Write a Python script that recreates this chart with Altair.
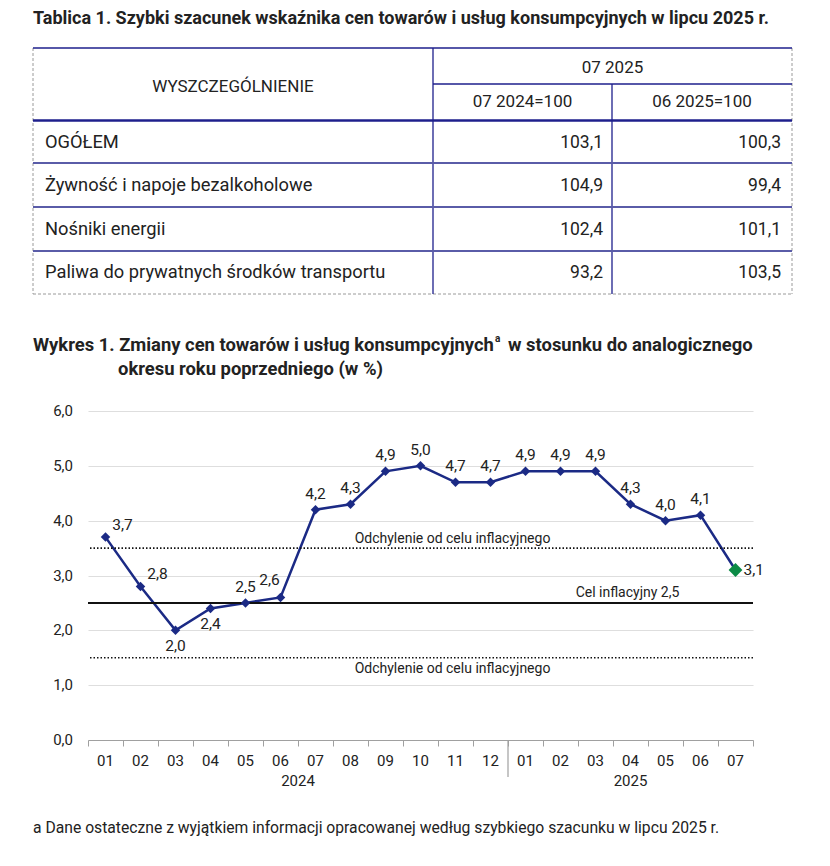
import altair as alt
import pandas as pd

# ---------------- data ----------------
months = ["2024-01", "2024-02", "2024-03", "2024-04", "2024-05", "2024-06",
          "2024-07", "2024-08", "2024-09", "2024-10", "2024-11", "2024-12",
          "2025-01", "2025-02", "2025-03", "2025-04", "2025-05", "2025-06", "2025-07"]
cpi = [3.7, 2.8, 2.0, 2.4, 2.5, 2.6, 4.2, 4.3, 4.9, 5.0, 4.7, 4.7,
       4.9, 4.9, 4.9, 4.3, 4.0, 4.1, 3.1]
# where each value label sits relative to its point (style, not data)
label_place = ["ur", "ur", "below", "below", "above", "ul", "above", "above", "above", "above",
               "above", "above", "above", "above", "above", "above", "above", "above", "right"]
y_ticks = [0, 1, 2, 3, 4, 5, 6]

inflation_target = 2.5
tolerance_upper = 3.5
tolerance_lower = 1.5

table_title = "Tablica 1. Szybki szacunek wskaźnika cen towarów i usług konsumpcyjnych w lipcu 2025 r."
table_head = "WYSZCZEGÓLNIENIE"
table_period = "07 2025"
table_cols = ["07 2024=100", "06 2025=100"]
table_rows = ["OGÓŁEM", "Żywność i napoje bezalkoholowe", "Nośniki energii",
              "Paliwa do prywatnych środków transportu"]
col_yoy = ["103,1", "104,9", "102,4", "93,2"]
col_mom = ["100,3", "99,4", "101,1", "103,5"]

chart_title_1 = "Wykres 1. Zmiany cen towarów i usług konsumpcyjnych"
chart_title_sup = "a"
chart_title_1b = "w stosunku do analogicznego"
chart_title_2 = "okresu roku poprzedniego (w %)"
footnote = "a Dane ostateczne z wyjątkiem informacji opracowanej według szybkiego szacunku w lipcu 2025 r."
years = ["2024", "2025"]

# ---------------- layout constants -------------
FONT = "Roboto"
W, H = 665, 329
TXT = "#222222"
NAVY = "#1b2a85"
GREEN = "#0b8a45"
TNAVY = "#1e1f8c"


def pl(v):
    return f"{v:.1f}".replace(".", ",")


df = pd.DataFrame({"m": months, "v": cpi, "lab": [pl(v) for v in cpi], "place": label_place})
df_main = df.iloc[:-1]
df_last = df.iloc[-1:]

X_SCALE = alt.Scale(domain=months, paddingInner=0, paddingOuter=0)
Y_SCALE = alt.Scale(domain=[0, 6], nice=False)

xs = alt.X("m:O", title=None, scale=X_SCALE,
           axis=alt.Axis(labels=False, tickBand="extent", tickSize=6, tickColor="#a0a0a0",
                         domainColor="#a0a0a0", grid=False))
ys = alt.Y("v:Q", title=None, scale=Y_SCALE,
           axis=alt.Axis(values=[i * 0.5 for i in range(13)], labels=False,
                         domain=False, ticks=False, grid=True, gridColor="#dedede", gridWidth=1.2))

line = alt.Chart(df).mark_line(color=NAVY, strokeWidth=2.5).encode(x=xs, y=ys)
pts = alt.Chart(df_main).mark_point(
    shape="diamond", filled=True, size=90, color=NAVY, opacity=1).encode(x="m:O", y="v:Q")
last_pt = alt.Chart(df_last).mark_point(
    shape="diamond", filled=True, size=190, color=GREEN, opacity=1).encode(x="m:O", y="v:Q")

offsets = {"above": ("center", 0, -16), "below": ("center", 0, 16),
           "ur": ("center", 17, -12), "ul": ("center", -11, -17), "right": ("left", 8, 0)}
labels = []
for p, (al, dx, dy) in offsets.items():
    labels.append(alt.Chart(df[df["place"] == p]).mark_text(
        align=al, baseline="middle", dx=dx, dy=dy, fontSize=15.5, font=FONT, color=TXT
    ).encode(x="m:O", y="v:Q", text="lab:N"))

# axis labels as text marks
xlab_df = pd.DataFrame({"m": months, "t": [m[5:] for m in months]})
xlab = alt.Chart(xlab_df).mark_text(fontSize=15, font=FONT, color=TXT, baseline="middle").encode(
    x="m:O", y=alt.value(H + 21), text="t:N")
ylab_df = pd.DataFrame({"v": y_ticks, "t": [pl(v) for v in y_ticks]})
ylab = alt.Chart(ylab_df).mark_text(fontSize=15, font=FONT, color=TXT, baseline="middle",
                                    align="right").encode(
    x=alt.value(-15), y="v:Q", text="t:N")

refdf = pd.DataFrame({"v": [tolerance_upper, tolerance_lower]})
ref_dotted = alt.Chart(refdf).mark_rule(color="#111111", strokeWidth=1.6, strokeDash=[1.5, 2]).encode(y="v:Q")
ref_target = alt.Chart(pd.DataFrame({"v": [inflation_target]})).mark_rule(
    color="#111111", strokeWidth=2).encode(y="v:Q")

ref_txt_df = pd.DataFrame({
    "m": ["2024-11", "2024-11", "2025-04"],
    "v": [tolerance_upper, tolerance_lower, inflation_target],
    "t": ["Odchylenie od celu inflacyjnego", "Odchylenie od celu inflacyjnego",
          "Cel inflacyjny " + pl(inflation_target)],
})
ref_dy = [-9, 11, -10]
ref_txt = []
for i in range(3):
    ref_txt.append(alt.Chart(ref_txt_df.iloc[[i]]).mark_text(
        fontSize=14, font=FONT, color=TXT, baseline="middle", dy=ref_dy[i], dx=-3
    ).encode(x="m:O", y="v:Q", text="t:N"))

# year labels + separator
year_lab = [
    alt.Chart(pd.DataFrame({"m": ["2024-07"], "t": [years[0]]})).mark_text(
        fontSize=15, font=FONT, color=TXT, baseline="middle").encode(
        x=alt.X("m:O", bandPosition=0), y=alt.value(H + 41), text="t:N"),
    alt.Chart(pd.DataFrame({"m": ["2025-04"], "t": [years[1]]})).mark_text(
        fontSize=15, font=FONT, color=TXT, baseline="middle").encode(
        x="m:O", y=alt.value(H + 41), text="t:N"),
]
sep = alt.Chart(pd.DataFrame({"m": ["2025-01"]})).mark_rule(color="#a0a0a0", strokeWidth=1.2).encode(
    x=alt.X("m:O", bandPosition=0), y=alt.value(H), y2=alt.value(H + 37))

plot_group = alt.layer(line, ref_dotted, ref_target, *ref_txt, pts, last_pt, *labels,
                       xlab, ylab, *year_lab, sep)

# ---------------- table and titles: page layout (pixels relative to plot origin) -------------
tL, tR = -55, 704           # table left/right
cA, cB = 345, 524           # column separators
yTop, yMid, yHead = -363, -327, -290.5
row_lines = [-248, -204, -160]
yBot = -117
row_centres = [-268, -225, -181, -138]

PXS = alt.Scale(domain=[0, 100], range=[0, 100])
PYS = alt.Scale(domain=[0, 100], range=[0, 100])


def seg(d, **kw):
    return alt.Chart(d).mark_rule(**kw).encode(
        x=alt.X("x:Q", scale=PXS, axis=None), x2="x2:Q",
        y=alt.Y("y:Q", scale=PYS, axis=None), y2="y2:Q")


def txt(d, align, size=17, weight="normal"):
    return alt.Chart(d).mark_text(align=align, baseline="middle", font=FONT, fontSize=size,
                                  fontWeight=weight, color=TXT).encode(
        x=alt.X("x:Q", scale=PXS, axis=None), y=alt.Y("y:Q", scale=PYS, axis=None), text="t:N")


dashed = pd.DataFrame({"x": [tL, tR, tL], "x2": [tL, tR, tR],
                       "y": [yTop, yTop, yBot], "y2": [yBot, yBot, yBot]})
top_lines = pd.DataFrame({"x": [tL, cA], "x2": [tR, tR], "y": [yTop, yMid], "y2": [yTop, yMid]})
head_line = pd.DataFrame({"x": [tL], "x2": [tR], "y": [yHead], "y2": [yHead]})
col_lines = pd.DataFrame({"x": [cA, cB], "x2": [cA, cB], "y": [yTop, yMid], "y2": [yBot, yBot]})
rl = pd.DataFrame({"x": [tL] * 3, "x2": [tR] * 3, "y": row_lines, "y2": row_lines})

t_lines = [
    seg(dashed, color="#9a9a9a", strokeWidth=1, strokeDash=[3, 2]),
    seg(top_lines, color=TNAVY, strokeWidth=1.5),
    seg(head_line, color=TNAVY, strokeWidth=2.6),
    seg(col_lines, color=TNAVY, strokeWidth=1.3),
    seg(rl, color="#5a5ca8", strokeWidth=2),
]

head_df = pd.DataFrame({"x": [(tL + cA) / 2, (cA + tR) / 2, (cA + cB) / 2, (cB + tR) / 2],
                        "y": [-324, -343, -309, -309],
                        "t": [table_head, table_period] + table_cols})
rows_df = pd.DataFrame({"x": [tL + 12] * 4, "y": row_centres, "t": table_rows})
v1_df = pd.DataFrame({"x": [cB - 9] * 4, "y": row_centres, "t": col_yoy})
v2_df = pd.DataFrame({"x": [tR - 11] * 4, "y": row_centres, "t": col_mom})

t_text = [txt(head_df, "center", 17), txt(rows_df, "left", 18.3),
          txt(v1_df, "right", 17.5), txt(v2_df, "right", 17.5)]

title_layers = [
    txt(pd.DataFrame({"x": [tL], "y": [-392], "t": [table_title]}), "left", 18, "bold"),
    txt(pd.DataFrame({"x": [tL], "y": [-66], "t": [chart_title_1]}), "left", 18.4, "bold"),
    txt(pd.DataFrame({"x": [407], "y": [-72], "t": [chart_title_sup]}), "left", 10, "bold"),
    txt(pd.DataFrame({"x": [420], "y": [-66], "t": [chart_title_1b]}), "left", 18.4, "bold"),
    txt(pd.DataFrame({"x": [30], "y": [-42], "t": [chart_title_2]}), "left", 18.4, "bold"),
    txt(pd.DataFrame({"x": [tL], "y": [417], "t": [footnote]}), "left", 15.7),
]

page_group = alt.layer(*t_lines, *t_text, *title_layers)

chart = alt.layer(plot_group, page_group).resolve_scale(
    x="independent", y="independent"
).properties(
    width=W, height=H,
    padding={"left": 80, "top": 403, "right": 69, "bottom": 118},
    autosize=alt.AutoSizeParams(type="none"),
    background="white",
).configure_view(stroke=None)

chart.save("out.html", embed_options={"renderer": "svg", "actions": False})
